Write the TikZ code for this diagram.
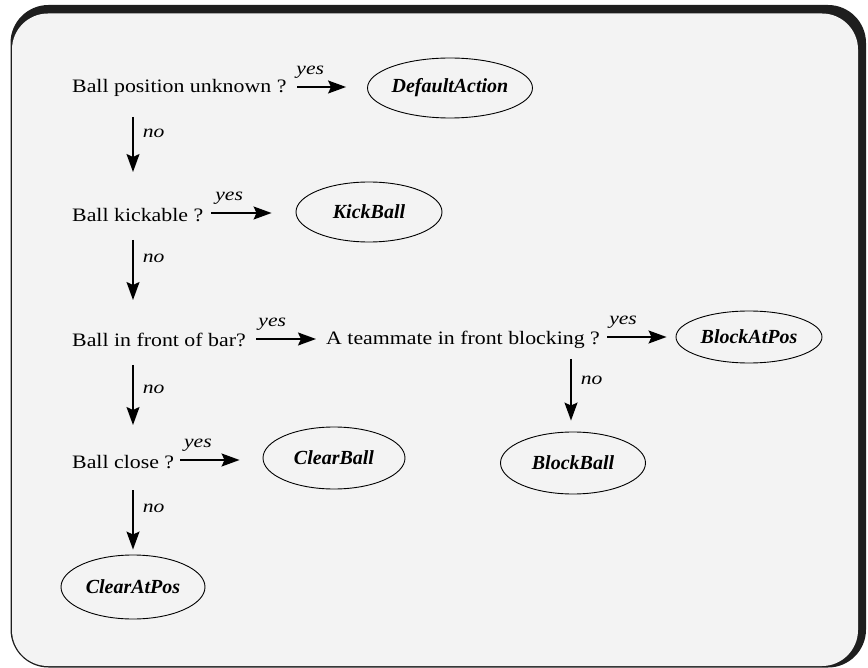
\documentclass[tikz,border=0pt]{standalone}
\usepackage{fontspec}
\setmainfont{Liberation Serif}
\newfontfamily\stretchserif{Liberation Serif}[FakeStretch=1.15]
\newfontfamily\labelserif{Liberation Serif}[FakeStretch=1.2]
\usetikzlibrary{shapes.geometric,arrows.meta,calc}
\definecolor{bgpanel}{HTML}{F3F3F3}
\definecolor{shadowc}{HTML}{1E1E1E}
\begin{document}
\begin{tikzpicture}[x=1pt,y=-1pt,
  qtext/.style={inner sep=0pt, anchor=west, font=\stretchserif\fontsize{19}{19}\selectfont},
  ell/.style={ellipse, draw, line width=0.9pt, inner sep=0pt, font=\bfseries\itshape\fontsize{20}{20}\selectfont},
  lbl/.style={inner sep=1pt, font=\labelserif\itshape\fontsize{18}{18}\selectfont},
  ylbl/.style={lbl, anchor=south, yshift=7pt},
  arr/.style={line width=1.6pt, -{Stealth[length=18pt,width=13pt,inset=3pt]}}]
\useasboundingbox (0,0) rectangle (868,668);
% frame
\fill[shadowc, rounded corners=38pt] (10.5,5) rectangle (866,667.5);
\fill[bgpanel, rounded corners=36pt] (12,13.5) rectangle (858,666);
% questions
\node[qtext] (q1) at (72,88) {Ball position unknown ?};
\node[qtext] (q2) at (72,215) {Ball kickable ?};
\node[qtext] (q3) at (72,340) {Ball in front of bar?};
\node[qtext] (q4) at (326,340) {A teammate in front blocking ?};
\node[qtext] (q5) at (72,462) {Ball close ?};
% actions
\node[ell, minimum width=145pt, minimum height=60pt] (da) at (450,88) {DefaultAction};
\node[ell, minimum width=146pt, minimum height=60pt] (kb) at (369,212) {KickBall};
\node[ell, minimum width=146pt, minimum height=52pt] (bap) at (749,337) {BlockAtPos};
\node[ell, minimum width=145pt, minimum height=62pt] (bb) at (573,463) {BlockBall};
\node[ell, minimum width=142pt, minimum height=62pt] (cb) at (334,458) {ClearBall};
\node[ell, minimum width=144pt, minimum height=64pt] (cap) at (133,587) {ClearAtPos};
% yes arrows
\draw[arr] ($(q1.west)+(225,-1)$) -- node[ylbl, pos=0.27] {yes} ($(da.west)+(-21,-1)$);
\draw[arr] ($(q2.west)+(139,-2)$) -- node[ylbl, pos=0.3] {yes} ($(kb.west)+(-24,1)$);
\draw[arr] ($(q3.west)+(184,-1)$) -- node[ylbl, pos=0.27] {yes} ($(q4.west)+(-10,-1)$);
\draw[arr] ($(q4.west)+(281,-3)$) -- node[ylbl, pos=0.27] {yes} ($(bap.west)+(-9,0)$);
\draw[arr] ($(q5.west)+(108,-2)$) -- node[ylbl, pos=0.3] {yes} ($(cb.west)+(-23,2)$);
% no arrows
\draw[arr] ($(q1.west)+(61,29)$) -- node[lbl, pos=0.3, anchor=west, xshift=8pt] {no} ($(q2.west)+(61,-43)$);
\draw[arr] ($(q2.west)+(61,25)$) -- node[lbl, pos=0.3, anchor=west, xshift=8pt] {no} ($(q3.west)+(61,-40)$);
\draw[arr] ($(q3.west)+(61,25)$) -- node[lbl, pos=0.4, anchor=west, xshift=8pt] {no} ($(q5.west)+(61,-37)$);
\draw[arr] ($(q5.west)+(61,28)$) -- node[lbl, pos=0.3, anchor=west, xshift=8pt] {no} ($(cap.north)+(0,-5)$);
\draw[arr] ($(q4.west)+(245,19)$) -- node[lbl, pos=0.35, anchor=west, xshift=8pt] {no} ($(bb.north)+(-2,-11)$);
\end{tikzpicture}
\end{document}
